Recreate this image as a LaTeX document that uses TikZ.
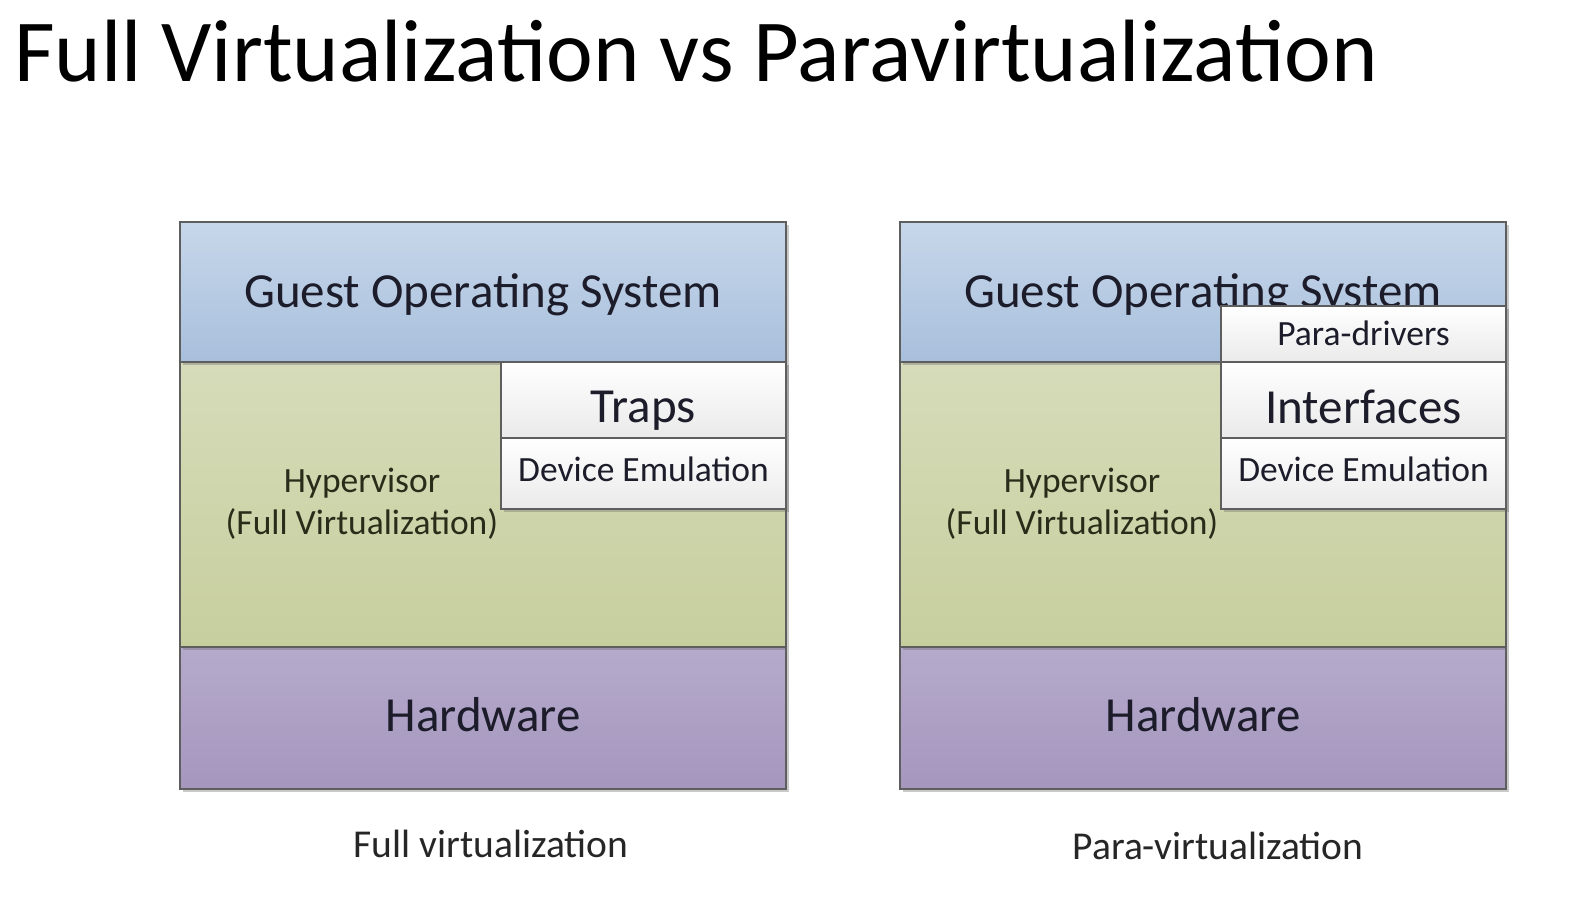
\documentclass[tikz,border=0pt]{standalone}
\usepackage{fontspec}
\setmainfont{Carlito}
\usetikzlibrary{shadows}
\definecolor{guesttop}{HTML}{C7D7EA}
\definecolor{guestbot}{HTML}{A8BFDC}
\definecolor{hyptop}{HTML}{D6DCB9}
\definecolor{hypbot}{HTML}{C7CE9E}
\definecolor{hwtop}{HTML}{B5AACB}
\definecolor{hwbot}{HTML}{A596BE}
\definecolor{boxbot}{HTML}{EAEAEA}
\definecolor{edge}{HTML}{5E5E5E}
\definecolor{ink}{HTML}{1C1C2A}
\definecolor{hypink}{HTML}{2A2C1A}
\tikzset{
  layer/.style={draw=edge, line width=1.8pt, inner sep=0pt, outer sep=0pt,
    anchor=north west, rectangle,
    drop shadow={shadow xshift=3pt, shadow yshift=-3pt, opacity=0.35, fill=black!60}},
  guest/.style={layer, top color=guesttop, bottom color=guestbot},
  hyp/.style={layer, top color=hyptop, bottom color=hypbot},
  hw/.style={layer, top color=hwtop, bottom color=hwbot},
  wbox/.style={layer, top color=white, bottom color=boxbot},
  big/.style={font=\fontsize{49}{50}\selectfont, text=ink},
  small/.style={font=\fontsize{35.5}{42}\selectfont, text=ink},
  hyptext/.style={font=\fontsize{35.5}{42}\selectfont, text=hypink, align=center},
  caption/.style={font=\fontsize{39.5}{42}\selectfont, text=black!85},
}
\begin{document}
\begin{tikzpicture}[x=1pt, y=-1pt]
  \fill[white] (0,0) rectangle (1590,918);
  \useasboundingbox (0,0) rectangle (1590,918);

  % title
  \node[anchor=base west, inner sep=0pt, font=\fontsize{88.5}{92}\selectfont] (title)
    at (14,81) {Full Virtualization vs Paravirtualization};

  % ---- full virtualization stack ----
  \node[hw, minimum width=606pt, minimum height=142pt] (hwL) at (180,647) {};
  \node[hyp, minimum width=606pt, minimum height=285pt] (hypL) at (180,362) {};
  \node[guest, minimum width=606pt, minimum height=140pt] (guestL) at (180,222) {};
  \node[wbox, minimum width=285pt, minimum height=76pt] (trapsL) at (501,362) {};
  \node[wbox, minimum width=285pt, minimum height=71pt] (devL) at (501,438) {};

  \node[big] at ([yshift=-3pt]guestL.center) {Guest Operating System};
  \node[big] at ([yshift=3pt]hwL.center) {Hardware};
  \node[big] at ([yshift=-11pt]trapsL.center) {Traps};
  \node[small] at ([yshift=4pt]devL.center) {Device Emulation};
  \node[hyptext] at (362,504) {Hypervisor\\(Full Virtualization)};

  \node[caption] (capL) at (491,844) {Full virtualization};

  % ---- para-virtualization stack ----
  \node[hw, minimum width=606pt, minimum height=142pt] (hwR) at (900,647) {};
  \node[hyp, minimum width=606pt, minimum height=285pt] (hypR) at (900,362) {};
  \node[guest, minimum width=606pt, minimum height=140pt] (guestR) at (900,222) {};
  \node[big] at ([yshift=-3pt]guestR.center) {Guest Operating System};
  \node[wbox, minimum width=285pt, minimum height=56pt] (paraR) at (1221,306) {};
  \node[wbox, minimum width=285pt, minimum height=76pt] (ifR) at (1221,362) {};
  \node[wbox, minimum width=285pt, minimum height=71pt] (devR) at (1221,438) {};

  \node[small] at ([yshift=1pt]paraR.center) {Para-drivers};
  \node[big] at ([yshift=-7pt]ifR.center) {Interfaces};
  \node[small] at ([yshift=4pt]devR.center) {Device Emulation};
  \node[big] at ([yshift=3pt]hwR.center) {Hardware};
  \node[hyptext] at (1082,504) {Hypervisor\\(Full Virtualization)};

  \node[caption] (capR) at (1218,846) {Para-virtualization};
\end{tikzpicture}
\end{document}
